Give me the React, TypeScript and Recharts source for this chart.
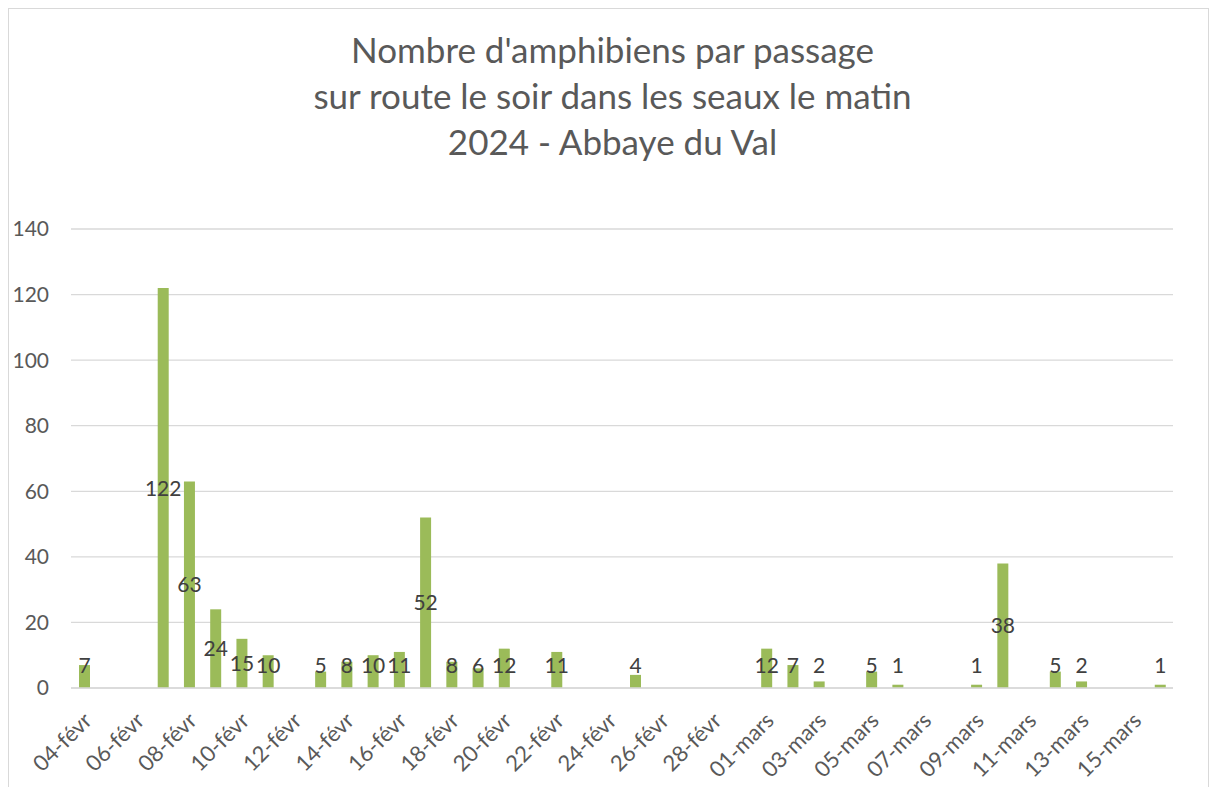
import { Bar, BarChart, CartesianGrid, LabelList, XAxis, YAxis } from "recharts"

const categories = [
  "04-févr", "05-févr", "06-févr", "07-févr", "08-févr", "09-févr", "10-févr",
  "11-févr", "12-févr", "13-févr", "14-févr", "15-févr", "16-févr", "17-févr",
  "18-févr", "19-févr", "20-févr", "21-févr", "22-févr", "23-févr", "24-févr",
  "25-févr", "26-févr", "27-févr", "28-févr", "29-févr", "01-mars", "02-mars",
  "03-mars", "04-mars", "05-mars", "06-mars", "07-mars", "08-mars", "09-mars",
  "10-mars", "11-mars", "12-mars", "13-mars", "14-mars", "15-mars", "16-mars",
]

const counts: (number | null)[] = [
  7, null, null, 122, 63, 24, 15,
  10, null, 5, 8, 10, 11, 52,
  8, 6, 12, null, 11, null, null,
  4, null, null, null, null, 12, 7,
  2, null, 5, 1, null, null, 1,
  38, null, 5, 2, null, null, 1,
]

const yTicks = [0, 20, 40, 60, 80, 100, 120, 140]

const titleLines = [
  "Nombre d'amphibiens par passage",
  "sur route le soir dans les seaux le matin",
  "2024 - Abbaye du Val",
]

const data = categories.map((name, i) => ({ name, value: counts[i] }))

const FONT = "Lato, 'Open Sans', sans-serif"

function XTick(props: any) {
  const { x, y, payload } = props
  const tx = x + 9
  const ty = y + 34
  return (
    <text
      x={tx}
      y={ty}
      transform={`rotate(-45, ${tx}, ${ty})`}
      textAnchor="end"
      fill="#595959"
      fontSize={22}
      fontFamily={FONT}
    >
      {payload.value}
    </text>
  )
}

function renderLabel(props: any) {
  const { x, y, width, height, value } = props
  if (value == null) return null
  const bottom = y + height
  const baseline = Math.min(y + height / 2 + 7.5, bottom - 15)
  return (
    <text
      x={x + width / 2}
      y={baseline}
      textAnchor="middle"
      fill="#404040"
      fontSize={21}
      fontFamily={FONT}
    >
      {value}
    </text>
  )
}

export default function App() {
  return (
    <div
      style={{
        position: "relative",
        width: 1201,
        height: 800,
        border: "1px solid #d9d9d9",
        boxSizing: "border-box",
        background: "#fff",
      }}
    >
      <div
        style={{
          position: "absolute",
          top: 17,
          left: 4,
          width: 1199,
          textAlign: "center",
          fontFamily: FONT,
          fontSize: 35,
          lineHeight: "46px",
          color: "#595959",
        }}
      >
        {titleLines.map((t) => (
          <div key={t}>{t}</div>
        ))}
      </div>
      <BarChart
        width={1199}
        height={790}
        data={data}
        margin={{ top: 220, right: 35, bottom: 0, left: 0 }}
        barSize={11}
      >
        <CartesianGrid vertical={false} stroke="#d9d9d9" strokeWidth={1.3} />
        <XAxis
          dataKey="name"
          interval={1}
          height={111}
          tickLine={false}
          tickSize={0}
          tickMargin={0}
          axisLine={{ stroke: "#d9d9d9", strokeWidth: 1.5 }}
          tick={<XTick />}
        />
        <YAxis
          domain={[0, 140]}
          ticks={yTicks}
          width={62}
          axisLine={false}
          tickLine={false}
          tickSize={0}
          tickMargin={22}
          tick={{ fill: "#595959", fontSize: 21, fontFamily: FONT }}
        />
        <Bar dataKey="value" fill="#9bbb59" isAnimationActive={false}>
          <LabelList dataKey="value" content={renderLabel} />
        </Bar>
      </BarChart>
    </div>
  )
}
